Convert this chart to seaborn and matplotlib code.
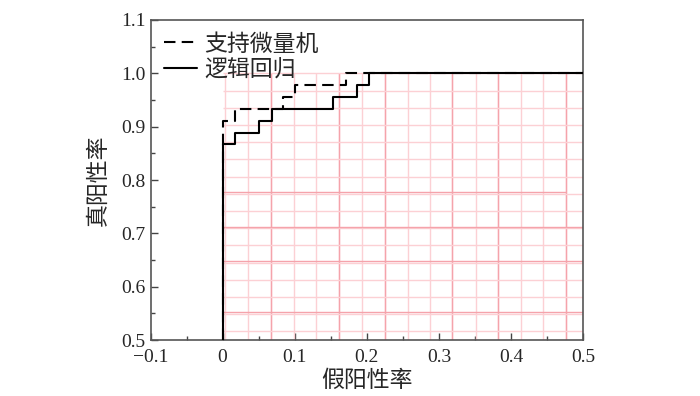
import numpy as np
import pandas as pd
import seaborn as sns
import matplotlib.pyplot as plt
from matplotlib.ticker import MultipleLocator

# ROC curve data (step points)
svm_fpr = [0.0, 0.0, 0.017, 0.084, 0.101, 0.171, 0.5]
svm_tpr = [0.5, 0.911, 0.933, 0.956, 0.978, 1.0, 1.0]
lr_fpr = [0.0, 0.0, 0.017, 0.051, 0.068, 0.153, 0.186, 0.203, 0.5]
lr_tpr = [0.5, 0.867, 0.889, 0.911, 0.933, 0.956, 0.978, 1.0, 1.0]

# pink background grid of the original figure
grid_x = [0.003, 0.035, 0.067, 0.099, 0.130, 0.162, 0.194, 0.225, 0.257,
          0.288, 0.318, 0.351, 0.382, 0.414, 0.445, 0.476]
grid_x_strong = [0.067, 0.162, 0.225, 0.318, 0.382, 0.476]
grid_y = [1.0 - k / 31 for k in range(16)]
grid_y_strong = [0.778, 0.712, 0.649, 0.552]

xtick_vals = [-0.1, 0, 0.1, 0.2, 0.3, 0.4, 0.5]
xtick_labels = ['\u22120.1', '0', '0.1', '0.2', '0.3', '0.4', '0.5']

sns.set_style('white')
plt.rcParams['font.family'] = ['Liberation Serif', 'Noto Sans CJK SC', 'DejaVu Sans']
plt.rcParams['axes.unicode_minus'] = True

df_svm = pd.DataFrame({'fpr': svm_fpr, 'tpr': svm_tpr})
df_lr = pd.DataFrame({'fpr': lr_fpr, 'tpr': lr_tpr})

fig = plt.figure(figsize=(7, 3.96), dpi=100)
ax = fig.add_axes([0.215, 0.1414, 0.618, 0.8081])

# background grid
ax.vlines(grid_x, 0.5, 1.0, colors='#fcd0d4', linewidth=1.0, zorder=1)
ax.vlines(grid_x_strong, 0.5, 1.0, colors='#f5a3ab', linewidth=1.0, zorder=1)
ax.hlines(grid_y, 0.0, 0.5, colors='#fcd0d4', linewidth=1.0, zorder=1)
ax.hlines(grid_y_strong[1:], 0.0, 0.5, colors='#f5a3ab', linewidth=1.0, zorder=1)
ax.hlines(grid_y_strong[:1], 0.0, 0.476, colors='#f5a3ab', linewidth=1.0, zorder=1)

sns.lineplot(data=df_svm, x='fpr', y='tpr', ax=ax, estimator=None, sort=False,
             drawstyle='steps-post', color='black', linewidth=1.5,
             linestyle=(0, (5.5, 3)), label='支持微量机', zorder=3)
sns.lineplot(data=df_lr, x='fpr', y='tpr', ax=ax, estimator=None, sort=False,
             drawstyle='steps-post', color='black', linewidth=1.5,
             label='逻辑回归', zorder=4)

ax.set_xlim(-0.1, 0.5)
ax.set_ylim(0.5, 1.1)
ax.set_xticks(xtick_vals)
ax.set_xticklabels(xtick_labels)
ax.xaxis.set_minor_locator(MultipleLocator(0.05))
ax.yaxis.set_major_locator(MultipleLocator(0.1))
ax.yaxis.set_minor_locator(MultipleLocator(0.05))
ax.yaxis.set_major_formatter(plt.FormatStrFormatter('%.1f'))
ax.tick_params(axis='both', which='major', direction='in', length=5, width=1,
               labelsize=14, color='#444444', top=False, right=False,
               bottom=True, left=True)
ax.tick_params(axis='x', which='major', pad=6.5)
ax.tick_params(axis='both', which='minor', direction='in', length=3, width=1,
               color='#444444', top=False, right=False, bottom=True, left=True)
for s in ax.spines.values():
    s.set_color('#555555')
    s.set_linewidth(1.2)

ax.set_xlabel('假阳性率', fontsize=16.5, labelpad=3)
ax.set_ylabel('真阳性率', fontsize=16.5, labelpad=8)

ax.legend(loc='upper left', frameon=False, fontsize=16.5, handlelength=1.45,
          handletextpad=0.3, borderaxespad=0.3, labelspacing=0.2,
          borderpad=0.3)

fig.savefig('out.png', dpi=100)
